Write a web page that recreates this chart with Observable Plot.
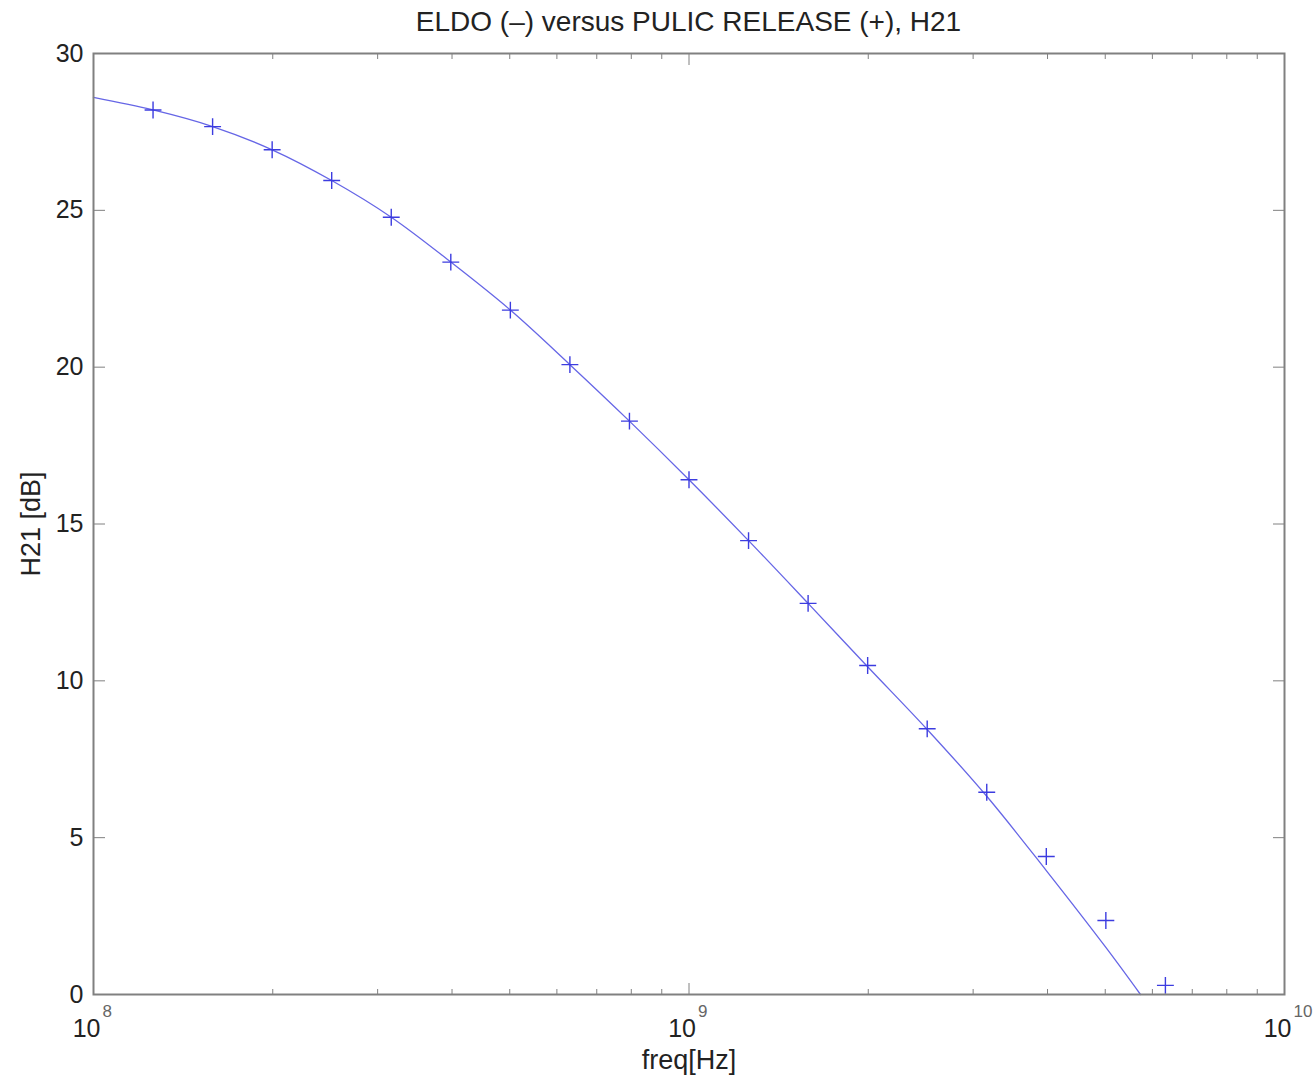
<!DOCTYPE html>
<html><head><meta charset="utf-8">
<script src="https://cdn.jsdelivr.net/npm/d3@7"></script>
<script src="https://cdn.jsdelivr.net/npm/@observablehq/plot@0.6"></script>
<style>
body{margin:0;background:#fff;font-family:"Liberation Sans",Arial,sans-serif;}
#title{height:40px;line-height:44px;margin-left:93px;width:1191px;text-align:center;font-size:28px;color:#222;white-space:nowrap;}
#chart svg{display:block;}
</style></head><body>
<div id="title"></div>
<div id="chart"></div>
<script>
const titleText = "ELDO (–) versus PULIC RELEASE (+), H21";
const xLabel = "freq[Hz]";
const yLabel = "H21 [dB]";

// PULIC RELEASE (+) markers
const markerFreq = [1.2589e8, 1.5849e8, 1.9953e8, 2.5119e8, 3.1623e8, 3.9811e8, 5.0119e8, 6.3096e8, 7.9433e8,
  1e9, 1.2589e9, 1.5849e9, 1.9953e9, 2.5119e9, 3.1623e9, 3.9811e9, 5.0119e9, 6.3096e9];
const markerH = [28.20, 27.67, 26.93, 25.95, 24.78, 23.35, 21.82, 20.08, 18.28,
  16.41, 14.47, 12.47, 10.49, 8.47, 6.45, 4.40, 2.36, 0.29];

// ELDO (-) line
const lineFreq = [1e8, 1.2589e8, 1.5849e8, 1.9953e8, 2.5119e8, 3.1623e8, 3.9811e8, 5.0119e8, 6.3096e8, 7.9433e8,
  1e9, 1.2589e9, 1.5849e9, 1.9953e9, 2.5119e9, 3.1623e9, 3.9811e9, 5.0119e9, 5.730e9];
const lineH = [28.60, 28.20, 27.67, 26.93, 25.95, 24.78, 23.35, 21.82, 20.08, 18.28,
  16.41, 14.47, 12.47, 10.45, 8.45, 6.32, 3.95, 1.50, 0];

const yTicks = [0, 5, 10, 15, 20, 25, 30];
const xMajor = [1e8, 1e9, 1e10];
const xExp = ["8", "9", "10"];
const xMinor = [2e8, 3e8, 4e8, 5e8, 6e8, 7e8, 8e8, 9e8, 2e9, 3e9, 4e9, 5e9, 6e9, 7e9, 8e9, 9e9];

document.getElementById("title").textContent = titleText;

const markers = markerFreq.map((f, i) => ({f, h: markerH[i]}));
const eldo = lineFreq.map((f, i) => ({f, h: lineH[i]}));
const axisCol = "#808080";
const textCol = "#222";
const font = "Liberation Sans, Arial, sans-serif";

const chart = Plot.plot({
  width: 1315,
  height: 1040,
  marginLeft: 93,
  marginRight: 31,
  marginTop: 13,
  marginBottom: 86,
  style: {fontFamily: font, fontSize: "25px", color: textCol, background: "#fff", overflow: "visible"},
  x: {type: "log", domain: [1e8, 1e10], axis: null},
  y: {domain: [0, 30], axis: null},
  marks: [
    Plot.axisY(yTicks, {anchor: "left", tickSize: -12, tickPadding: 22, label: null, stroke: axisCol, fill: textCol, fontSize: 25}),
    Plot.axisY(yTicks, {anchor: "right", tickSize: -12, tickFormat: () => "", label: null, stroke: axisCol}),
    Plot.axisX(xMajor, {anchor: "bottom", tickSize: -11, tickFormat: () => "", label: null, stroke: axisCol}),
    Plot.axisX(xMinor, {anchor: "bottom", tickSize: -5, tickFormat: () => "", label: null, stroke: axisCol}),
    Plot.axisX(xMajor, {anchor: "top", tickSize: -11, tickFormat: () => "", label: null, stroke: axisCol}),
    Plot.axisX(xMinor, {anchor: "top", tickSize: -5, tickFormat: () => "", label: null, stroke: axisCol}),
    Plot.text(xMajor, {x: d => d, text: () => "10", frameAnchor: "bottom", dy: 34, dx: 7, textAnchor: "end", lineAnchor: "middle", fontSize: 25, fill: textCol}),
    Plot.text(xMajor, {x: d => d, text: (d, i) => xExp[i], frameAnchor: "bottom", dy: 17, dx: 9, textAnchor: "start", lineAnchor: "middle", fontSize: 17, fill: "#666"}),
    Plot.text([xLabel], {frameAnchor: "bottom", dy: 66, textAnchor: "middle", lineAnchor: "middle", fontSize: 27, fill: textCol}),
    Plot.text([yLabel], {frameAnchor: "left", dx: -62, rotate: -90, textAnchor: "middle", lineAnchor: "middle", fontSize: 27, fill: textCol}),
    Plot.line(eldo, {x: "f", y: "h", stroke: "#6666e6", strokeWidth: 1.3, curve: "catmull-rom"}),
    Plot.dot(markers, {x: "f", y: "h", symbol: "plus", r: 5.5, stroke: "#3c3ce0", strokeWidth: 1.4}),
    Plot.frame({stroke: axisCol, strokeWidth: 2})
  ]
});
document.getElementById("chart").appendChild(chart);
</script>
</body></html>
